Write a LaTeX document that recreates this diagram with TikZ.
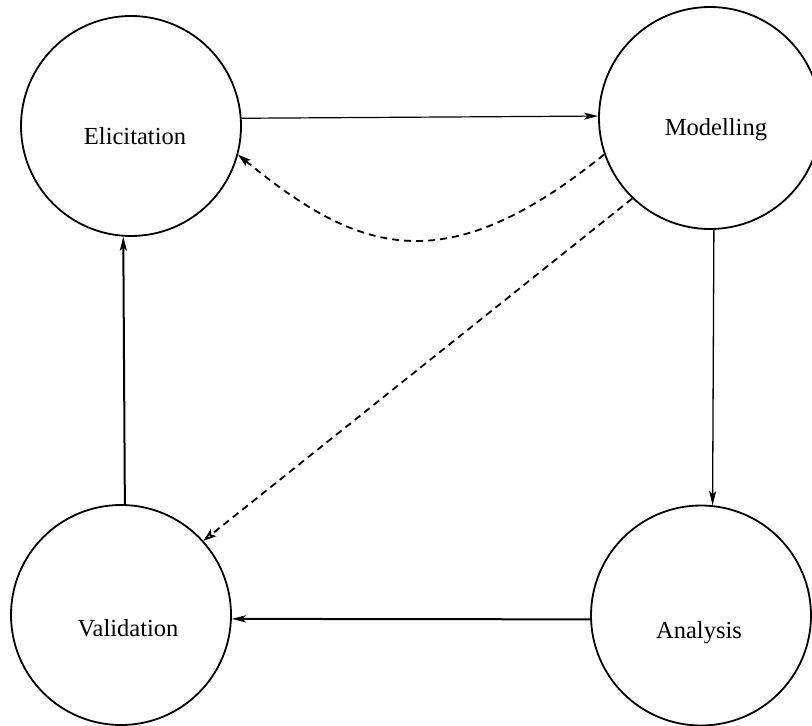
\documentclass[tikz,border=0pt]{standalone}
\usepackage{fontspec}
\setmainfont{Liberation Serif}
\usetikzlibrary{arrows.meta}
\begin{document}
\begin{tikzpicture}[x=1pt,y=1pt,
  stage/.style={circle, draw, line width=1.8pt, minimum size=220pt, inner sep=0pt},
  lab/.style={font=\fontsize{24.5}{29}\selectfont, anchor=base, inner sep=0pt},
  flow/.style={line width=1.4pt, -{Stealth[length=14pt,width=7pt,inset=3pt]}},
  back/.style={line width=1.8pt, dash pattern=on 7pt off 5pt, -{Stealth[length=13pt,width=8pt,inset=3pt]}},
  backopen/.style={line width=1.8pt, dash pattern=on 7pt off 5pt, -{Stealth[open,length=13pt,width=9pt,inset=3pt]}}]
\clip (0,0) rectangle (812,-726);
\fill[white] (0,0) rectangle (812,-726);
\node[stage] (E) at (131,-126) {};
\node[stage, minimum size=222pt] (M) at (710,-118) {};
\node[stage] (V) at (121,-615) {};
\node[stage] (A) at (701,-615.5) {};
\node[lab] (Et) at (135,-144) {Elicitation};
\node[lab] (Mt) at (716,-135) {Modelling};
\node[lab] (Vt) at (128,-636) {Validation};
\node[lab] (At) at (699,-638) {Analysis};
% solid flows
\draw[flow, line width=1.2pt] (E.4.69) -- (M.179.48);
\draw[flow, line width=1.3pt] (M.-88.97) -- (A.84.26);
\draw[flow, line width=2pt] (A.182.3) -- (V.-2.6);
\draw[flow, line width=2pt] (V.88.96) -- (E.-94.17);
% dashed feedback
\draw[back] (M.199.4) .. controls (444,-284) and (358,-253) .. (E.-15.4);
\draw[backopen] (M.226) -- (V.42.8);
\end{tikzpicture}
\end{document}
